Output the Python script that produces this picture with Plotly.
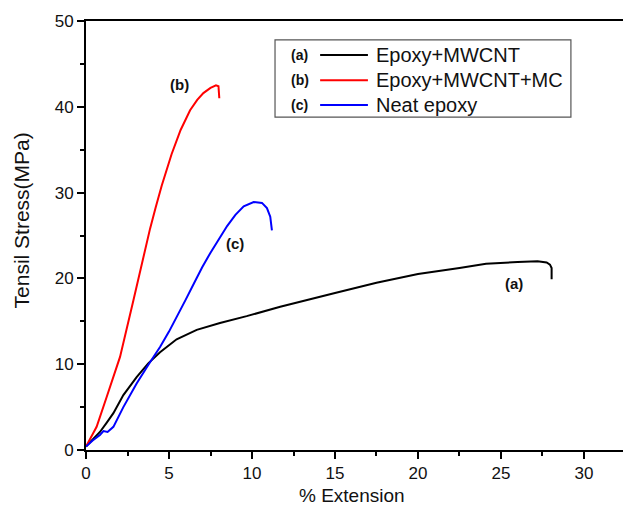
import plotly.graph_objects as go

# ---- data ----
black_x = [0, 0.4, 0.84, 1.25, 1.65, 2.25, 3.05, 3.75, 4.46, 5.46, 6.67, 8.07, 9.68, 11.7,
           13.5, 15, 17.5, 20, 22.5, 24.1, 26, 27.2, 27.75, 27.95, 28.05, 28.05]
black_y = [0.4, 1.2, 2.1, 3.2, 4.3, 6.4, 8.5, 10.1, 11.4, 12.9, 14.0, 14.8, 15.6, 16.7,
           17.6, 18.3, 19.5, 20.5, 21.2, 21.7, 21.9, 22.0, 21.85, 21.6, 21.2, 19.9]

red_x = [0, 0.3, 0.64, 1.25, 2.05, 2.85, 3.45, 3.86, 4.2, 4.56, 5.16, 5.7, 6.27, 6.7,
         7.07, 7.5, 7.83, 7.98, 8.03]
red_y = [0.4, 1.5, 2.7, 6.2, 10.85, 17.4, 22.5, 25.8, 28.3, 30.8, 34.5, 37.3, 39.6, 40.8,
         41.6, 42.2, 42.5, 42.4, 41.0]

blue_x = [0, 0.4, 0.84, 1.05, 1.3, 1.65, 2.25, 3.05, 3.75, 4.46, 5.0, 5.5, 6.0, 6.5, 7.0,
          7.5, 8.0, 8.5, 9.0, 9.5, 10.1, 10.6, 10.9, 11.1, 11.2]
blue_y = [0.4, 1.1, 1.75, 2.2, 2.1, 2.7, 5.0, 7.75, 9.9, 12.0, 13.8, 15.6, 17.5, 19.4, 21.3,
          23.0, 24.6, 26.1, 27.4, 28.4, 28.9, 28.8, 28.2, 27.2, 25.6]

series_names = ["Epoxy+MWCNT", "Epoxy+MWCNT+MC", "Neat epoxy"]
series_tags = ["(a)", "(b)", "(c)"]
series_colors = ["#000000", "#ff0000", "#0000ff"]

curve_labels = ["(a)", "(b)", "(c)"]
curve_label_x = [25.8, 5.66, 9.0]
curve_label_y = [19.4, 42.6, 24.1]

x_ticks = [0, 5, 10, 15, 20, 25, 30]
y_ticks = [0, 10, 20, 30, 40, 50]

FONT = "Liberation Sans, Arial, sans-serif"

fig = go.Figure()
for xs, ys, name, col in zip([black_x, red_x, blue_x], [black_y, red_y, blue_y],
                             series_names, series_colors):
    fig.add_trace(go.Scatter(x=xs, y=ys, mode="lines", name=name,
                             line=dict(color=col, width=2), showlegend=False))

annotations = []
for t, x, y in zip(curve_labels, curve_label_x, curve_label_y):
    annotations.append(dict(x=x, y=y, xref="x", yref="y", text="<b>%s</b>" % t,
                            xanchor="center", yanchor="middle",
                            showarrow=False, font=dict(family=FONT, size=15, color="#111")))

# manual legend (tag, line sample, name) inside a box
shapes = [dict(type="rect", xref="paper", yref="paper", x0=0.352, x1=0.903,
               y0=0.776, y1=0.956, line=dict(color="#555", width=1.2))]
rows_y = [0.921, 0.862, 0.804]
for tag, name, col, ry in zip(series_tags, series_names, series_colors, rows_y):
    shapes.append(dict(type="line", xref="paper", yref="paper", x0=0.436, x1=0.525,
                       y0=ry, y1=ry, line=dict(color=col, width=2)))
    annotations.append(dict(x=0.3985, y=ry, xref="paper", yref="paper",
                            text="<b>%s</b>" % tag, showarrow=False,
                            xanchor="center", yanchor="middle",
                            font=dict(family=FONT, size=14, color="#111")))
    annotations.append(dict(x=0.537, y=ry, xref="paper", yref="paper", text=name,
                            xanchor="left", yanchor="middle", showarrow=False,
                            font=dict(family=FONT, size=20, color="#111")))

# axis titles
annotations.append(dict(x=0.495, y=-0.107, xref="paper", yref="paper", text="% Extension",
                        xanchor="center", yanchor="middle",
                        showarrow=False, font=dict(family=FONT, size=19, color="#111")))
annotations.append(dict(x=-0.12, y=0.534, xref="paper", yref="paper",
                        text="Tensil Stress(MPa)", textangle=-90, showarrow=False,
                        xanchor="center", yanchor="middle",
                        font=dict(family=FONT, size=21, color="#111")))

fig.update_layout(
    width=623, height=513,
    margin=dict(l=86, r=0, t=21, b=63),
    paper_bgcolor="white", plot_bgcolor="white",
    font=dict(family=FONT, size=16, color="#111"),
    shapes=shapes, annotations=annotations,
)
fig.update_xaxes(range=[0, 32.35], tickvals=x_ticks, ticks="outside", ticklen=7,
                 tickwidth=1.5, tickcolor="#000", showline=True, linecolor="#000",
                 linewidth=2, mirror=True, showgrid=False, zeroline=False,
                 minor=dict(dtick=2.5, tick0=0, ticks="outside", ticklen=4, tickwidth=1.5,
                            tickcolor="#000", showgrid=False),
                 tickfont=dict(family=FONT, size=17))
fig.update_yaxes(range=[0, 50], tickvals=y_ticks, ticks="outside", ticklen=7,
                 tickwidth=1.5, tickcolor="#000", showline=True, linecolor="#000",
                 linewidth=2, showgrid=False, zeroline=False,
                 minor=dict(dtick=5, tick0=0, ticks="outside", ticklen=4, tickwidth=1.5,
                            tickcolor="#000", showgrid=False),
                 tickfont=dict(family=FONT, size=17))

fig.write_html("out.html", config={"displayModeBar": False},
               post_script="document.body.style.margin='0';"
                           "document.body.style.overflow='hidden';")
